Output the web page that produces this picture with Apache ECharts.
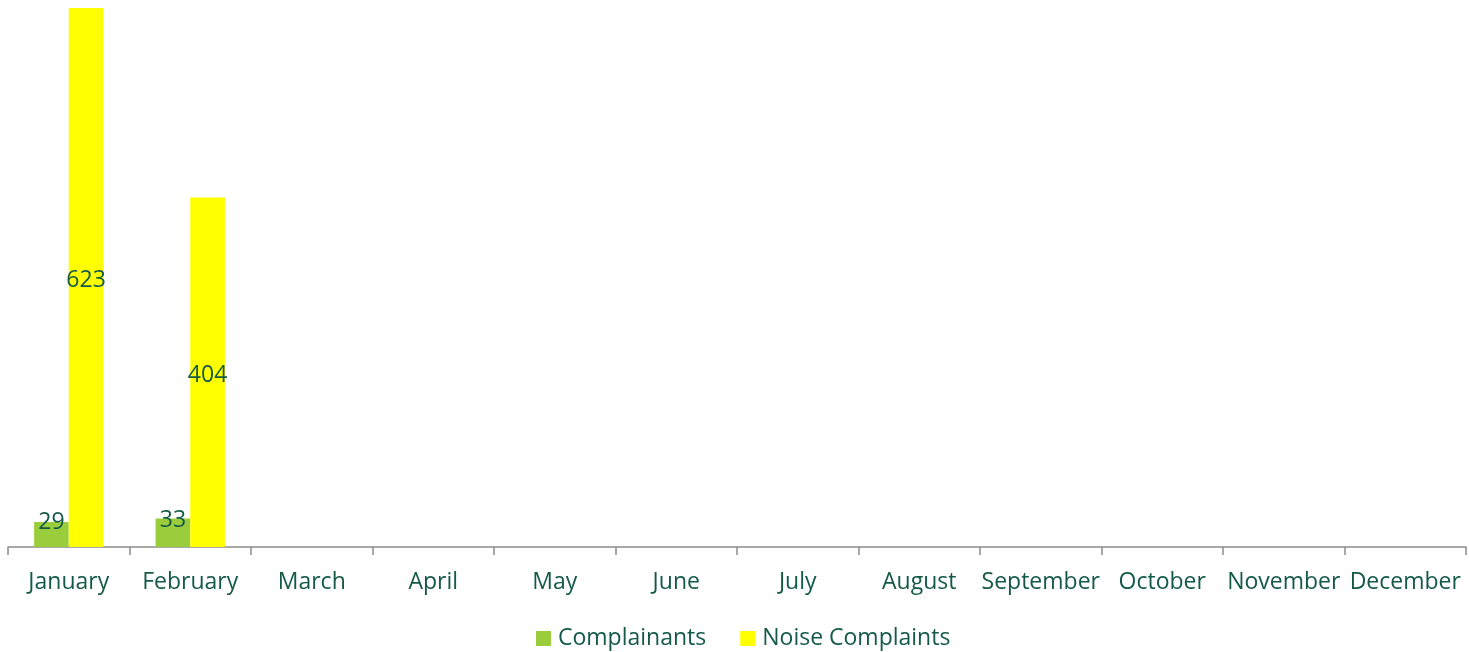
<!DOCTYPE html>
<html>
<head>
<meta charset="utf-8">
<script src="https://cdn.jsdelivr.net/npm/echarts@6/dist/echarts.min.js"></script>
<style>
  html, body { margin: 0; padding: 0; background: #fff; }
  #chart { width: 1469px; height: 652px; }
</style>
</head>
<body>
<div id="chart"></div>
<script>
// data
const months = ['January', 'February', 'March', 'April', 'May', 'June',
  'July', 'August', 'September', 'October', 'November', 'December']
const complainants = [29, 33, null, null, null, null, null, null, null, null, null, null]
const noiseComplaints = [623, 404, null, null, null, null, null, null, null, null, null, null]

const textColor = '#145a46'
const fontFamily = '"Open Sans", sans-serif'

const chart = echarts.init(document.getElementById('chart'))
chart.setOption({
  animation: false,
  textStyle: { fontFamily: fontFamily },
  grid: { left: 8, right: 3, top: 8, bottom: 105, containLabel: false },
  legend: {
    top: 622,
    left: 531,
    itemWidth: 15,
    itemHeight: 15,
    itemGap: 34,
    icon: 'rect',
    textStyle: { color: textColor, fontSize: 23, fontFamily: fontFamily, padding: [0, 0, 0, 2] }
  },
  xAxis: {
    type: 'category',
    data: months,
    axisLine: { lineStyle: { color: '#8c8c8c', width: 1.5 } },
    axisTick: { show: true, length: 8, lineStyle: { color: '#8c8c8c', width: 1.5 } },
    axisLabel: { color: textColor, fontSize: 23, margin: 24, interval: 0 }
  },
  yAxis: {
    type: 'value',
    min: 0,
    max: 623,
    show: false,
    splitLine: { show: false }
  },
  series: [
    {
      name: 'Complainants',
      type: 'bar',
      data: complainants,
      barGap: '0%',
      barCategoryGap: '43%',
      itemStyle: { color: '#9acd3c' },
      label: { show: true, position: 'inside', color: textColor, fontSize: 23, offset: [0, -12] }
    },
    {
      name: 'Noise Complaints',
      type: 'bar',
      data: noiseComplaints,
      itemStyle: { color: '#ffff00' },
      label: { show: true, position: 'inside', color: textColor, fontSize: 23, offset: [0, 3] }
    }
  ]
})
</script>
</body>
</html>
